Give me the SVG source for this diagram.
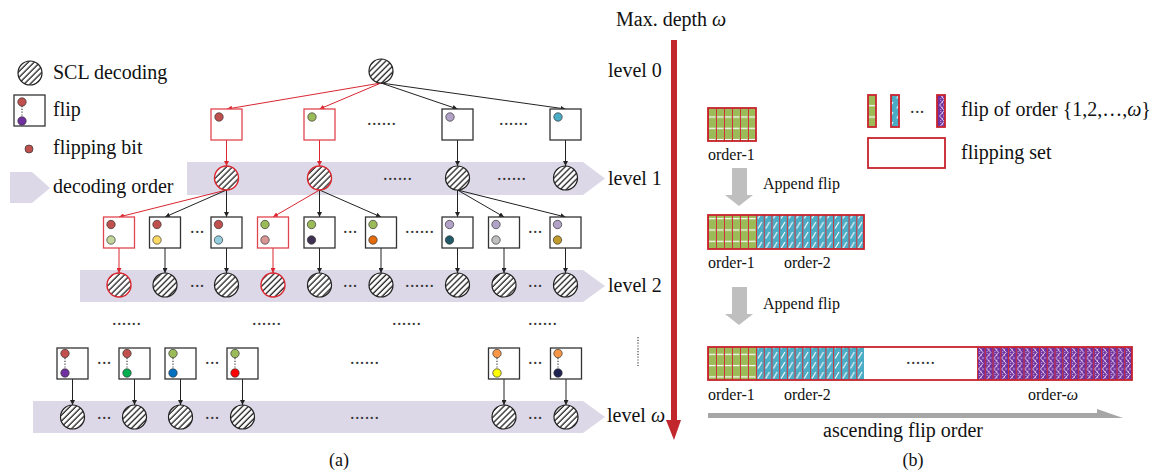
<svg xmlns="http://www.w3.org/2000/svg" width="1158" height="473" viewBox="0 0 1158 473">
<style>
.t{font-family:"Liberation Serif","Times New Roman",serif;fill:#111}
.t20{font-size:20px}
.t16{font-size:16px}
.dt{font-family:"Liberation Serif",serif;font-size:18px;fill:#333;letter-spacing:0.4px}
.box{fill:#fff;stroke:#333;stroke-width:1.3}
.rbox{fill:#fff;stroke:#e0464f;stroke-width:1.3}
.hc{fill:url(#hatch);stroke:#222;stroke-width:1.2}
.rhc{fill:url(#hatch);stroke:#d9262f;stroke-width:1.4}
.band{fill:#dcd8e7}
.bl{stroke:#222;stroke-width:1;marker-end:url(#ab);fill:none}
.rl{stroke:#d9262f;stroke-width:1;marker-end:url(#ar);fill:none}
.dot{stroke:#333;stroke-width:0.7}
.vd{stroke:#444;stroke-width:1.2;stroke-dasharray:1.2 1.6}
.blk{stroke:#c8232c;stroke-width:1.8}
.gray{fill:#bfbfbf}
</style>
<defs>
<pattern id="hatch" patternUnits="userSpaceOnUse" width="4.2" height="4.2" patternTransform="rotate(45)"><rect width="4.2" height="4.2" fill="#fff"/><line x1="1" y1="0" x2="1" y2="4.2" stroke="#222" stroke-width="1.3"/></pattern>
<pattern id="pg" patternUnits="userSpaceOnUse" x="708" y="108" width="8" height="11.3"><rect width="8" height="11.3" fill="#9bbb59"/><line x1="1" y1="9" x2="7.5" y2="9" stroke="#fff" stroke-width="1.2"/></pattern>
<pattern id="pb" patternUnits="userSpaceOnUse" x="756" y="0" width="7.714" height="10"><rect width="7.714" height="10" fill="#4bacc6"/><line x1="2" y1="8.5" x2="5.8" y2="2" stroke="#fff" stroke-width="1.1"/></pattern>
<pattern id="pp" patternUnits="userSpaceOnUse" x="977" y="347" width="7.75" height="11"><rect width="7.75" height="11" fill="#7030a0"/><polyline points="1.5,0 6,5.5 1.5,11" fill="none" stroke="#fff" stroke-width="0.8"/><polyline points="6.2,0 1.8,5.5 6.2,11" fill="none" stroke="#e8dcf0" stroke-width="0.8" stroke-dasharray="1.5 1"/></pattern>
<pattern id="dg" patternUnits="userSpaceOnUse" x="708" y="0" width="8" height="10"><line x1="0.5" y1="0" x2="0.5" y2="10" stroke="#d0313a" stroke-width="1"/></pattern>
<pattern id="db" patternUnits="userSpaceOnUse" x="756" y="0" width="7.714" height="10"><line x1="0.5" y1="0" x2="0.5" y2="10" stroke="#d0313a" stroke-width="1"/></pattern>
<pattern id="dp" patternUnits="userSpaceOnUse" x="977" y="0" width="7.75" height="10"><line x1="0.5" y1="0" x2="0.5" y2="10" stroke="#d0313a" stroke-width="1"/></pattern>
<marker id="ab" viewBox="0 0 6 6" refX="6" refY="3" markerWidth="5" markerHeight="5" markerUnits="userSpaceOnUse" orient="auto"><path d="M0,0 L6,3 L0,6 z" fill="#222"/></marker>
<marker id="ar" viewBox="0 0 6 6" refX="6" refY="3" markerWidth="5" markerHeight="5" markerUnits="userSpaceOnUse" orient="auto"><path d="M0,0 L6,3 L0,6 z" fill="#d9262f"/></marker>
</defs>
<rect width="1158" height="473" fill="#fff"/>

<!-- legend -->
<g id="legend">
<circle class="hc" cx="30" cy="73" r="12"/>
<text class="t t20" x="53" y="79">SCL decoding</text>
<rect class="box" x="14" y="95" width="31" height="31"/>
<line class="vd" x1="22" y1="106" x2="22" y2="117"/>
<circle class="dot" cx="22" cy="102" r="4.2" fill="#c0504d"/>
<circle class="dot" cx="22" cy="121" r="4.2" fill="#7030a0"/>
<text class="t t20" x="53" y="116">flip</text>
<circle class="dot" cx="29" cy="149" r="4" fill="#c0504d"/>
<text class="t t20" x="53" y="154">flipping bit</text>
<polygon class="band" points="10,172 32,172 50,188 32,203 10,203"/>
<text class="t t20" x="53" y="193">decoding order</text>
</g>

<!-- bands -->
<g id="bands">
<polygon class="band" points="187,162 583,162 605,178.5 583,195 187,195"/>
<polygon class="band" points="80,270 583,270 605,286 583,302 80,302"/>
<polygon class="band" points="33,401 583,401 605,417 583,433 33,433"/>
</g>

<!-- connectors -->
<g id="connectors">
<line class="rl" x1="381" y1="83" x2="227" y2="109"/>
<line class="rl" x1="381" y1="83" x2="319.5" y2="109"/>
<line class="bl" x1="381" y1="83" x2="457.5" y2="109"/>
<line class="bl" x1="381" y1="83" x2="565.5" y2="109"/>
<line class="rl" x1="226.5" y1="140" x2="226.5" y2="166"/>
<line class="rl" x1="319.5" y1="140" x2="319.5" y2="166"/>
<line class="bl" x1="457.5" y1="140" x2="457.5" y2="166"/>
<line class="bl" x1="565.5" y1="140" x2="565.5" y2="166"/>
<line class="rl" x1="226.5" y1="190" x2="119" y2="217"/>
<line class="bl" x1="226.5" y1="190" x2="165" y2="217"/>
<line class="bl" x1="226.5" y1="190" x2="226.5" y2="217"/>
<line class="rl" x1="319.5" y1="190" x2="273" y2="217"/>
<line class="bl" x1="319.5" y1="190" x2="319.5" y2="217"/>
<line class="bl" x1="319.5" y1="190" x2="381" y2="217"/>
<line class="bl" x1="457.5" y1="190" x2="457.5" y2="217"/>
<line class="bl" x1="457.5" y1="190" x2="504" y2="217"/>
<line class="bl" x1="457.5" y1="190" x2="565.5" y2="217"/>
<line class="rl" x1="119" y1="248" x2="119" y2="273"/>
<line class="bl" x1="165" y1="248" x2="165" y2="273"/>
<line class="bl" x1="226.5" y1="248" x2="226.5" y2="273"/>
<line class="rl" x1="273" y1="248" x2="273" y2="273"/>
<line class="bl" x1="319.5" y1="248" x2="319.5" y2="273"/>
<line class="bl" x1="381" y1="248" x2="381" y2="273"/>
<line class="bl" x1="457.5" y1="248" x2="457.5" y2="273"/>
<line class="bl" x1="504" y1="248" x2="504" y2="273"/>
<line class="bl" x1="565.5" y1="248" x2="565.5" y2="273"/>
<line class="bl" x1="72.5" y1="379" x2="72.5" y2="405"/>
<line class="bl" x1="134.5" y1="379" x2="134.5" y2="405"/>
<line class="bl" x1="180.5" y1="379" x2="180.5" y2="405"/>
<line class="bl" x1="242.5" y1="379" x2="242.5" y2="405"/>
<line class="bl" x1="504" y1="379" x2="504" y2="405"/>
<line class="bl" x1="566" y1="379" x2="566" y2="405"/>
</g>

<!-- level 0 -->
<g id="root"><circle class="hc" cx="381" cy="71" r="12"/></g>

<!-- level 1 flips -->
<g id="f1a"><rect class="rbox" x="211" y="109" width="31" height="31"/><circle class="dot" cx="219" cy="117" r="4.2" fill="#c0504d"/></g>
<g id="f1b"><rect class="rbox" x="304" y="109" width="31" height="31"/><circle class="dot" cx="312" cy="117" r="4.2" fill="#9bbb59"/></g>
<g id="f1c"><rect class="box" x="442" y="109" width="31" height="31"/><circle class="dot" cx="450" cy="117" r="4.2" fill="#b3a2c7"/></g>
<g id="f1d"><rect class="box" x="550" y="109" width="31" height="31"/><circle class="dot" cx="558" cy="117" r="4.2" fill="#4bacc6"/></g>
<g id="c1a"><circle class="rhc" cx="226.5" cy="178" r="12"/></g>
<g id="c1b"><circle class="rhc" cx="319.5" cy="178" r="12"/></g>
<g id="c1c"><circle class="hc" cx="457.5" cy="178" r="12"/></g>
<g id="c1d"><circle class="hc" cx="565.5" cy="178" r="12"/></g>

<!-- level 2 flips -->
<g id="f2a"><rect class="rbox" x="103.5" y="217" width="31" height="31"/><circle class="dot" cx="111" cy="224.5" r="4.2" fill="#c0504d"/><circle class="dot" cx="111" cy="240" r="4.2" fill="#c3d69b"/></g>
<g id="f2b"><rect class="box" x="149.5" y="217" width="31" height="31"/><circle class="dot" cx="157" cy="224.5" r="4.2" fill="#c0504d"/><circle class="dot" cx="157" cy="240" r="4.2" fill="#ffd966"/></g>
<g id="f2c"><rect class="box" x="211" y="217" width="31" height="31"/><circle class="dot" cx="218.5" cy="224.5" r="4.2" fill="#c0504d"/><circle class="dot" cx="218.5" cy="240" r="4.2" fill="#93cddd"/></g>
<g id="f2d"><rect class="rbox" x="257.5" y="217" width="31" height="31"/><circle class="dot" cx="265" cy="224.5" r="4.2" fill="#9bbb59"/><circle class="dot" cx="265" cy="240" r="4.2" fill="#d99694"/></g>
<g id="f2e"><rect class="box" x="304" y="217" width="31" height="31"/><circle class="dot" cx="311.5" cy="224.5" r="4.2" fill="#9bbb59"/><circle class="dot" cx="311.5" cy="240" r="4.2" fill="#3f3151"/></g>
<g id="f2f"><rect class="box" x="365.5" y="217" width="31" height="31"/><circle class="dot" cx="373" cy="224.5" r="4.2" fill="#9bbb59"/><circle class="dot" cx="373" cy="240" r="4.2" fill="#e46c0a"/></g>
<g id="f2g"><rect class="box" x="442" y="217" width="31" height="31"/><circle class="dot" cx="449.5" cy="224.5" r="4.2" fill="#b3a2c7"/><circle class="dot" cx="449.5" cy="240" r="4.2" fill="#215968"/></g>
<g id="f2h"><rect class="box" x="488.5" y="217" width="31" height="31"/><circle class="dot" cx="496" cy="224.5" r="4.2" fill="#b3a2c7"/><circle class="dot" cx="496" cy="240" r="4.2" fill="#bfbfbf"/></g>
<g id="f2i"><rect class="box" x="550" y="217" width="31" height="31"/><circle class="dot" cx="557.5" cy="224.5" r="4.2" fill="#b3a2c7"/><circle class="dot" cx="557.5" cy="240" r="4.2" fill="#c09a2a"/></g>
<g id="c2a"><circle class="rhc" cx="119" cy="285" r="12"/></g>
<g id="c2b"><circle class="hc" cx="165" cy="285" r="12"/></g>
<g id="c2c"><circle class="hc" cx="226.5" cy="285" r="12"/></g>
<g id="c2d"><circle class="rhc" cx="273" cy="285" r="12"/></g>
<g id="c2e"><circle class="hc" cx="319.5" cy="285" r="12"/></g>
<g id="c2f"><circle class="hc" cx="381" cy="285" r="12"/></g>
<g id="c2g"><circle class="hc" cx="457.5" cy="285" r="12"/></g>
<g id="c2h"><circle class="hc" cx="504" cy="285" r="12"/></g>
<g id="c2i"><circle class="hc" cx="565.5" cy="285" r="12"/></g>

<!-- level omega flips -->
<g id="fwa"><rect class="box" x="57" y="348" width="31" height="31"/><line class="vd" x1="65" y1="358" x2="65" y2="368"/><circle class="dot" cx="65" cy="353.5" r="4.2" fill="#c0504d"/><circle class="dot" cx="65" cy="373" r="4.2" fill="#7030a0"/></g>
<g id="fwb"><rect class="box" x="119" y="348" width="31" height="31"/><line class="vd" x1="127" y1="358" x2="127" y2="368"/><circle class="dot" cx="127" cy="353.5" r="4.2" fill="#c0504d"/><circle class="dot" cx="127" cy="373" r="4.2" fill="#00b050"/></g>
<g id="fwc"><rect class="box" x="165" y="348" width="31" height="31"/><line class="vd" x1="173" y1="358" x2="173" y2="368"/><circle class="dot" cx="173" cy="353.5" r="4.2" fill="#9bbb59"/><circle class="dot" cx="173" cy="373" r="4.2" fill="#0070c0"/></g>
<g id="fwd"><rect class="box" x="227" y="348" width="31" height="31"/><line class="vd" x1="235" y1="358" x2="235" y2="368"/><circle class="dot" cx="235" cy="353.5" r="4.2" fill="#9bbb59"/><circle class="dot" cx="235" cy="373" r="4.2" fill="#ff0000"/></g>
<g id="fwe"><rect class="box" x="488.5" y="348" width="31" height="31"/><line class="vd" x1="497" y1="358" x2="497" y2="368"/><circle class="dot" cx="497" cy="353.5" r="4.2" fill="#f79646"/><circle class="dot" cx="497" cy="373" r="4.2" fill="#ffff00"/></g>
<g id="fwf"><rect class="box" x="550.5" y="348" width="31" height="31"/><line class="vd" x1="558" y1="358" x2="558" y2="368"/><circle class="dot" cx="558" cy="353.5" r="4.2" fill="#f79646"/><circle class="dot" cx="558" cy="373" r="4.2" fill="#1f2352"/></g>
<g id="cwa"><circle class="hc" cx="72.5" cy="417" r="12"/></g>
<g id="cwb"><circle class="hc" cx="134.5" cy="417" r="12"/></g>
<g id="cwc"><circle class="hc" cx="180.5" cy="417" r="12"/></g>
<g id="cwd"><circle class="hc" cx="242.5" cy="417" r="12"/></g>
<g id="cwe"><circle class="hc" cx="504" cy="417" r="12"/></g>
<g id="cwf"><circle class="hc" cx="566" cy="417" r="12"/></g>

<!-- ellipses -->
<g id="ellipses">
<text class="dt" x="367" y="124.5">......</text>
<text class="dt" x="499" y="124.5">......</text>
<text class="dt" x="383" y="179.5">......</text>
<text class="dt" x="497" y="179.5">......</text>
<text class="dt" x="190" y="232.5">...</text>
<text class="dt" x="343" y="232.5">...</text>
<text class="dt" x="405" y="232.5">......</text>
<text class="dt" x="528" y="232.5">...</text>
<text class="dt" x="190" y="286.5">...</text>
<text class="dt" x="343" y="286.5">...</text>
<text class="dt" x="405" y="286.5">......</text>
<text class="dt" x="528" y="286.5">...</text>
<text class="dt" x="112" y="324.5">......</text>
<text class="dt" x="252" y="324.5">......</text>
<text class="dt" x="392" y="324.5">......</text>
<text class="dt" x="528" y="324.5">......</text>
<text class="dt" x="97" y="363.5">...</text>
<text class="dt" x="205" y="363.5">...</text>
<text class="dt" x="350" y="363.5">......</text>
<text class="dt" x="528" y="363.5">...</text>
<text class="dt" x="97" y="418.5">...</text>
<text class="dt" x="205" y="418.5">...</text>
<text class="dt" x="350" y="418.5">......</text>
<text class="dt" x="528" y="418.5">...</text>
<line class="vd" x1="638" y1="337" x2="638" y2="366"/>
</g>

<!-- level labels and depth arrow -->
<g id="levels">
<text class="t t20" x="616" y="26">Max. depth <tspan font-style="italic">ω</tspan></text>
<text class="t t20" x="608" y="77">level 0</text>
<text class="t t20" x="608" y="185">level 1</text>
<text class="t t20" x="608" y="292">level 2</text>
<text class="t t20" x="607" y="422">level <tspan font-style="italic">ω</tspan></text>
</g>
<g id="depth-arrow">
<rect x="671" y="40" width="6" height="382" fill="#c1272d"/>
<polygon points="666,420 681,420 674,440" fill="#c1272d"/>
</g>

<!-- panel b legend -->
<g id="legend-b">
<rect x="868" y="95" width="8" height="32" fill="url(#pg)" class="blk"/>
<rect x="891" y="95" width="8" height="32" fill="url(#pb)" class="blk"/>
<text class="dt" x="910" y="113">...</text>
<rect x="937" y="95" width="8" height="32" fill="url(#pp)" class="blk"/>
<text class="t t20" x="961" y="116">flip of order {1,2,…,<tspan font-style="italic">ω</tspan>}</text>
<rect x="868" y="138" width="77" height="30" fill="#fff" class="blk"/>
<text class="t t20" x="961" y="159">flipping set</text>
</g>

<!-- set 1 -->
<g id="set1">
<rect x="708" y="108" width="48" height="33" fill="url(#pg)"/>
<rect x="708" y="108" width="48" height="33" fill="url(#dg)"/>
<rect x="708" y="108" width="48" height="33" fill="none" class="blk"/>
<text class="t t16" x="708" y="160">order-1</text>
</g>
<g id="append1">
<rect class="gray" x="732" y="168" width="15" height="27"/>
<polygon class="gray" points="725,195 753,195 739,206"/>
<text class="t t16" x="763" y="189">Append flip</text>
</g>
<!-- set 2 -->
<g id="set2">
<rect x="708" y="215" width="48" height="34" fill="url(#pg)"/>
<rect x="708" y="215" width="48" height="34" fill="url(#dg)"/>
<rect x="756" y="215" width="108" height="34" fill="url(#pb)"/>
<rect x="756" y="215" width="108" height="34" fill="url(#db)"/>
<rect x="708" y="215" width="156" height="34" fill="none" class="blk"/>
<text class="t t16" x="708" y="268">order-1</text>
<text class="t t16" x="784" y="268">order-2</text>
</g>
<g id="append2">
<rect class="gray" x="732" y="287" width="15" height="27"/>
<polygon class="gray" points="725,314 753,314 739,325"/>
<text class="t t16" x="763" y="309">Append flip</text>
</g>
<!-- set 3 -->
<g id="set3">
<rect x="708" y="347" width="48" height="33" fill="url(#pg)"/>
<rect x="708" y="347" width="48" height="33" fill="url(#dg)"/>
<rect x="756" y="347" width="108" height="33" fill="url(#pb)"/>
<rect x="756" y="347" width="108" height="33" fill="url(#db)"/>
<rect x="864" y="347" width="113" height="33" fill="#fff"/>
<rect x="977" y="347" width="155" height="33" fill="url(#pp)"/>
<rect x="977" y="347" width="155" height="33" fill="url(#dp)"/>
<rect x="708" y="347" width="424" height="33" fill="none" class="blk"/>
<text class="dt" x="906" y="364">......</text>
<text class="t t16" x="708" y="400">order-1</text>
<text class="t t16" x="784" y="400">order-2</text>
<text class="t t16" x="1028" y="400">order-<tspan font-style="italic">ω</tspan></text>
</g>
<g id="ascending">
<rect x="708" y="413" width="392" height="5" fill="#a6a6a6"/>
<polygon points="1097,409 1097,418 1123,418" fill="#a6a6a6"/>
<text class="t t20" x="823" y="437">ascending flip order</text>
</g>
<text class="t" font-size="18" x="339" y="466" text-anchor="middle">(a)</text>
<text class="t" font-size="18" x="913" y="466" text-anchor="middle">(b)</text>
</svg>
